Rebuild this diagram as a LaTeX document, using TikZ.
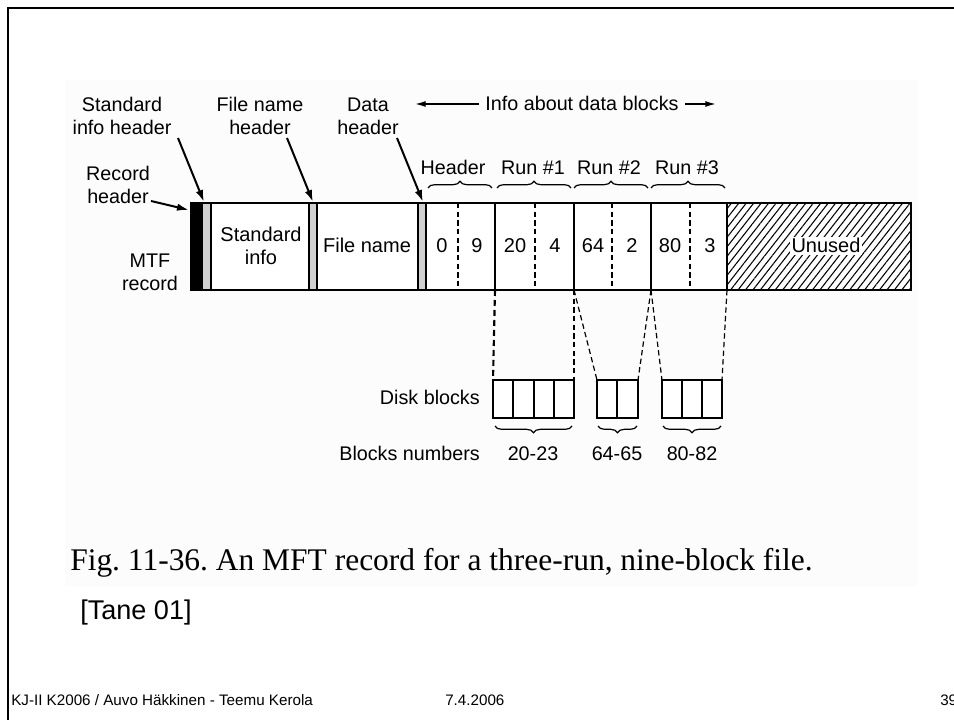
\documentclass[tikz,border=0pt]{standalone}
\usepackage{fontspec}
\setmainfont{Liberation Sans}
\newfontfamily\capfont{Liberation Serif}
\usetikzlibrary{arrows.meta,decorations.pathreplacing,patterns.meta}
\definecolor{scanbg}{RGB}{252,252,252}
\definecolor{hdrgray}{RGB}{208,208,208}
\frenchspacing
\begin{document}
\begin{tikzpicture}[x=0.75pt,y=-0.75pt,
  lbl/.style={font=\fontsize{14.8}{17.25}\selectfont, align=center, inner sep=0pt},
  bl/.style={font=\fontsize{14.8}{17.25}\selectfont, inner sep=0pt, anchor=base},
  celltxt/.style={font=\fontsize{15}{17.25}\selectfont, align=center, inner sep=0pt},
  cellbl/.style={font=\fontsize{15}{17.25}\selectfont, inner sep=0pt, anchor=base},
  captxt/.style={font=\capfont\fontsize{23.6}{26}\selectfont, inner sep=0pt, anchor=west},
  reftxt/.style={font=\fontsize{20.3}{22}\selectfont, inner sep=0pt, anchor=west},
  foottxt/.style={font=\fontsize{11.4}{13}\selectfont, inner sep=0pt, anchor=base west},
  barline/.style={line width=1.8pt},
  sepline/.style={line width=1.5pt},
  innerdash/.style={line width=0.9pt, dash pattern=on 4pt off 2.5pt},
  labelarrow/.style={line width=1.5pt, -{Latex[length=9pt,width=5.5pt]}},
  infoarrow/.style={line width=1.1pt, -{Latex[length=8pt,width=4.5pt]}},
  topbrace/.style={decorate, decoration={brace, amplitude=5pt}, line width=0.9pt},
  botbrace/.style={decorate, decoration={brace, amplitude=5pt, mirror}, line width=0.9pt},
  thickdash/.style={line width=1.6pt, dash pattern=on 4.5pt off 3pt},
  thindash/.style={line width=0.9pt, dash pattern=on 4pt off 2.5pt},
  diskbox/.style={line width=1.5pt},
  frameline/.style={line width=2pt}]
\useasboundingbox (0,0) rectangle (954,720);
\fill[white] (0,0) rectangle (954,720);
\fill[scanbg] (65,80) rectangle (918,586);
\draw[frameline] (8,724) -- (8,8) -- (958,8);

% ---------- MFT record bar ----------
\coordinate (barNW) at (191,203);
\coordinate (barSE) at (911,290);
\fill[black] (191,203) rectangle (203,290);
\fill[hdrgray] (203,203) rectangle (211,290);
\fill[hdrgray] (309,203) rectangle (317,290);
\fill[hdrgray] (418,203) rectangle (426,290);
\fill[white] (426,203) rectangle (911,290);
\fill[white] (211,203) rectangle (309,290);
\fill[white] (317,203) rectangle (418,290);
\path[pattern={Lines[angle=52,distance=4.4pt,line width=0.8pt]}] (727,203) rectangle (911,290);
\foreach \x in {211,309,317,418,426,495,574,651,727}
  \draw[sepline] (\x,203) -- (\x,290);
\foreach \x in {458,535,612,690}
  \draw[innerdash] (\x,203) -- (\x,290);
\draw[barline] (barNW) rectangle (barSE);

\node[celltxt] (stdinfo) at (261,246) {Standard\\info};
\node[cellbl] (fname) at (367,253) {File name};
\node[cellbl] (v0) at (442,253) {0};
\node[cellbl] (v9) at (477,253) {9};
\node[cellbl] (v20) at (515,253) {20};
\node[cellbl] (v4) at (555,253) {4};
\node[cellbl] (v64) at (593,253) {64};
\node[cellbl] (v2) at (632,253) {2};
\node[cellbl] (v80) at (670,253) {80};
\node[cellbl] (v3) at (710,253) {3};
\node[cellbl, fill=white, inner sep=1.5pt] (unused) at (826,253) {Unused};

% ---------- labels above ----------
\node[lbl] (sih) at (122,116) {Standard\\info header};
\node[lbl] (fnh) at (260,116) {File name\\header};
\node[lbl] (dh) at (368,116) {Data\\header};
\node[lbl] (rh) at (118,185) {Record\\header};
\node[lbl] (mtf) at (150,272) {MTF\\record};
\node[bl] (info) at (582,111) {Info about data blocks};

\coordinate (sihA) at (178,138); \coordinate (sihB) at (204,202);
\coordinate (fnhA) at (287,138); \coordinate (fnhB) at (313,202);
\coordinate (dhA) at (397,138);  \coordinate (dhB) at (423,202);
\coordinate (rhA) at (151,201);  \coordinate (rhB) at (189,210);
\draw[labelarrow] (sihA) -- (sihB);
\draw[labelarrow] (fnhA) -- (fnhB);
\draw[labelarrow] (dhA) -- (dhB);
\draw[labelarrow] (rhA) -- (rhB);

\coordinate (infoL) at (415,104);
\coordinate (infoR) at (716,104);
\coordinate (infoLs) at (479,104);
\coordinate (infoRs) at (685,104);
\draw[infoarrow] (infoLs) -- (infoL);
\draw[infoarrow] (infoRs) -- (infoR);

% run braces
\node[bl] (hdrlbl) at (453,175) {Header};
\node[bl] (run1) at (533,175) {Run \#1};
\node[bl] (run2) at (609,175) {Run \#2};
\node[bl] (run3) at (687,175) {Run \#3};
\draw[topbrace] (428,188) -- (492,188);
\draw[topbrace] (497,188) -- (571,188);
\draw[topbrace] (574,188) -- (648,188);
\draw[topbrace] (651,188) -- (725,188);

% ---------- disk blocks ----------
\coordinate (r1b) at (495,290);
\coordinate (r2b) at (574,290);
\coordinate (r3b) at (651,290);
\coordinate (r4b) at (727,290);
\coordinate (g1nw) at (493,380); \coordinate (g1ne) at (574,380);
\coordinate (g2nw) at (597,380); \coordinate (g2ne) at (638,380);
\coordinate (g3nw) at (662,380); \coordinate (g3ne) at (722,380);

\draw[thickdash] (r1b) -- (g1nw);
\draw[thindash] (r2b) -- (g1ne);
\draw[thindash] (r2b) -- (g2nw);
\draw[thindash] (r3b) -- (g2ne);
\draw[thindash] (r3b) -- (g3nw);
\draw[thindash] (r4b) -- (g3ne);

\fill[white] (493,380) rectangle (574,418);
\fill[white] (597,380) rectangle (638,418);
\fill[white] (662,380) rectangle (722,418);
\draw[diskbox] (493,380) rectangle (574,418);
\foreach \x in {513,534,554} \draw[diskbox] (\x,380) -- (\x,418);
\draw[diskbox] (597,380) rectangle (638,418);
\draw[diskbox] (617,380) -- (617,418);
\draw[diskbox] (662,380) rectangle (722,418);
\foreach \x in {682,702} \draw[diskbox] (\x,380) -- (\x,418);

\draw[botbrace] (495,426) -- (572,426);
\draw[botbrace] (598,426) -- (637,426);
\draw[botbrace] (663,426) -- (721,426);

\node[bl, anchor=base east] (disklbl) at (480,405) {Disk blocks};
\node[bl, anchor=base east] (numlbl) at (480,460) {Blocks numbers};
\node[bl] (n1) at (533,460) {20-23};
\node[bl] (n2) at (617,460) {64-65};
\node[bl] (n3) at (692,460) {80-82};

% ---------- caption and footer ----------
\node[captxt] (caption) at (70,563) {Fig. 11-36. An MFT record for a three-run, nine-block file.};
\node[reftxt] (ref) at (80,613) {[Tane 01]};
\node[foottxt] (foot1) at (11,705) {KJ-II K2006 / Auvo Häkkinen - Teemu Kerola};
\node[foottxt] (foot2) at (445,705) {7.4.2006};
\node[foottxt] (foot3) at (940,705) {39};
\end{tikzpicture}
\end{document}
